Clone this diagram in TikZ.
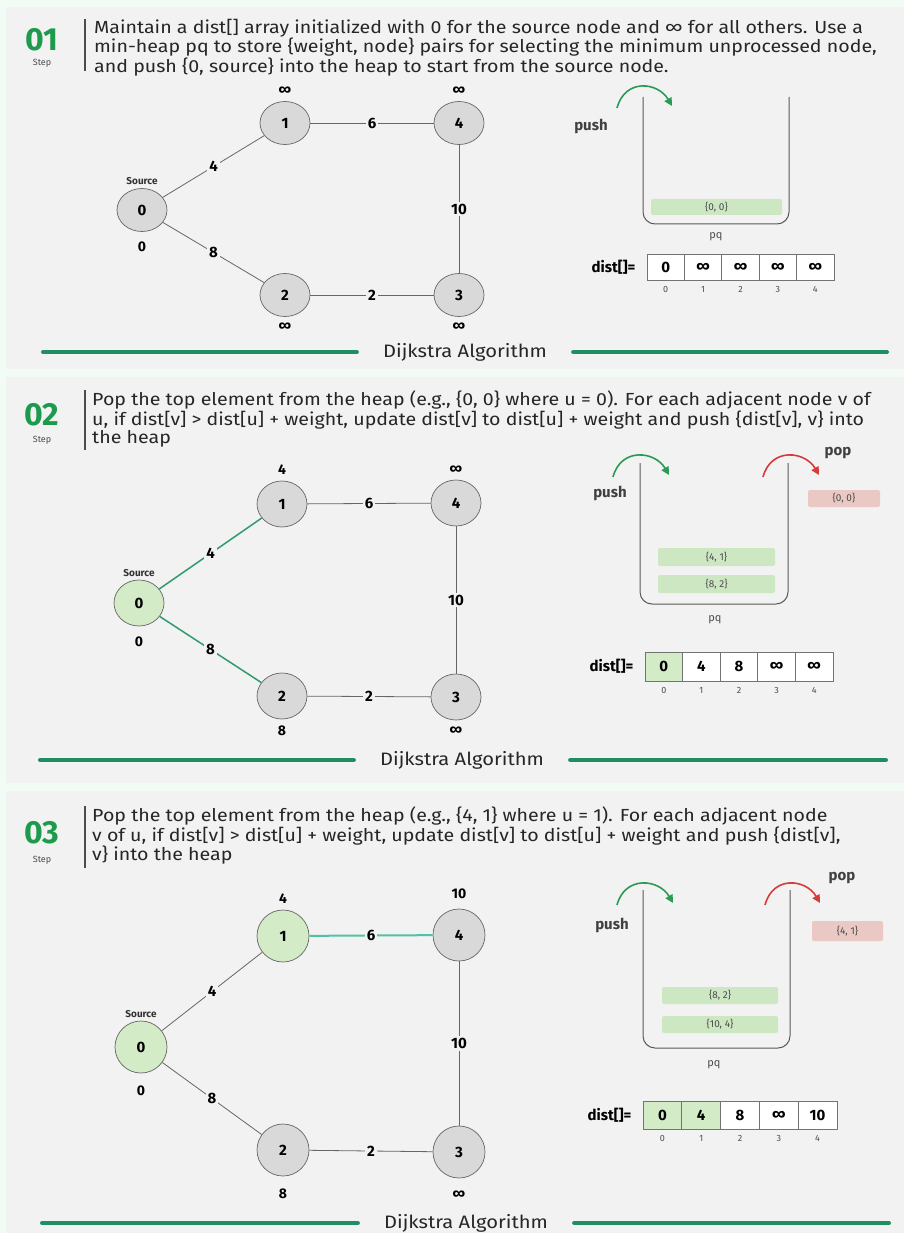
\documentclass[tikz,border=0pt]{standalone}
\usepackage{fontspec}
\setmainfont{Fira Sans}
\newfontfamily\narrowfont[FakeStretch=1.12]{Fira Sans}
\usetikzlibrary{positioning, shapes.geometric, arrows.meta}

\definecolor{pagebg}{HTML}{F3FBF5}
\definecolor{panelbg}{HTML}{F2F2F2}
\definecolor{stepgreen}{HTML}{1E9A4C}
\definecolor{footgreen}{HTML}{1F8F63}
\definecolor{nodegray}{HTML}{D9D9D9}
\definecolor{nodegreen}{HTML}{D3EBC6}
\definecolor{edgegreen}{HTML}{2E9C6A}
\definecolor{edgeteal}{HTML}{52C2A4}
\definecolor{itemgreen}{HTML}{CDE7C3}
\definecolor{itemred}{HTML}{EAC9C4}
\definecolor{pushgreen}{HTML}{2A9A55}
\definecolor{popred}{HTML}{D63A3A}

\begin{document}
\begin{tikzpicture}[x=1pt, y=-1pt,
vertex/.style={ellipse, draw=black!60, line width=0.7pt, fill=nodegray, minimum width=50pt, minimum height=43pt, inner sep=0pt, font=\bfseries\fontsize{15}{15}\selectfont},
vertexdone/.style={vertex, fill=nodegreen},
dl/.style={font=\bfseries\fontsize{14}{14}\selectfont, inner sep=0pt, label distance=6pt},
srclbl/.style={font=\bfseries\fontsize{10}{10}\selectfont, text=black!80, inner sep=0pt, label distance=3pt},
weight/.style={fill=panelbg, inner sep=2pt, font=\bfseries\fontsize{15}{15}\selectfont},
edge/.style={draw=black!60, line width=0.8pt},
edgedone/.style={draw=edgegreen, line width=1.5pt},
hdr/.style={anchor=north west, align=left, inner sep=0pt, text=black!85, font=\narrowfont\fontsize{17.5}{18}\selectfont},
stepnum/.style={font=\bfseries\fontsize{32}{32}\selectfont, text=stepgreen, inner sep=0pt},
steplbl/.style={font=\fontsize{9}{9}\selectfont, text=black!70, inner sep=0pt},
stepbar/.style={draw=black!70, line width=1.2pt},
bucket/.style={draw=black!65, line width=1pt, rounded corners=12pt},
item/.style={fill=itemgreen, rounded corners=2pt, minimum width=117pt, minimum height=17pt, inner sep=0pt, text=black!70, font=\fontsize{10}{10}\selectfont},
popped/.style={item, fill=itemred, minimum width=72pt, minimum height=18pt},
pusharrow/.style={-{Triangle[length=8pt,width=8pt]}, draw=pushgreen, line width=1.6pt},
poparrow/.style={pusharrow, draw=popred},
oplbl/.style={font=\bfseries\fontsize{15}{15}\selectfont, text=black!75, inner sep=0pt},
pqlbl/.style={font=\fontsize{11}{11}\selectfont, text=black!70, inner sep=0pt},
cell/.style={draw=black!55, line width=0.8pt, fill=white, minimum width=37.4pt, minimum height=26pt, inner sep=0pt, font=\bfseries\fontsize{15}{15}\selectfont},
cellgreen/.style={cell, fill=nodegreen},
idx/.style={font=\fontsize{9}{9}\selectfont, text=black!70, inner sep=0pt, label distance=6pt},
distlbl/.style={font=\bfseries\fontsize{15}{15}\selectfont, inner sep=0pt},
foottext/.style={font=\narrowfont\fontsize{18}{18}\selectfont, text=black!85, inner xsep=26pt},
footline/.style={draw=footgreen, line width=4pt, line cap=round}
]
\useasboundingbox (0,0) rectangle (904,1233);
\fill[pagebg] (0,0) rectangle (904,1233);

% ---------- step 01 ----------
\fill[panelbg] (6,7) rectangle (904,369);
\node[stepnum] (a-num) at (42,40) {01};
\node[steplbl] (a-step) at (42,63) {Step};
\draw[stepbar] (85,19) -- (85,71);
\node[hdr] (a-text) at (94,19) {Maintain a dist[] array initialized with 0 for the source node and ∞ for all others. Use a\\
min-heap pq to store \{weight, node\} pairs for selecting the minimum unprocessed node,\\
and push \{0, source\} into the heap to start from the source node.};

\node[vertex, label={[srclbl]above:Source}, label={[dl, label distance=10pt]below:0}] (a0) at (142,210) {0};
\node[vertex, label={[dl]above:∞}] (a1) at (285,123) {1};
\node[vertex, label={[dl]below:∞}] (a2) at (285,295) {2};
\node[vertex, label={[dl]below:∞}] (a3) at (459,295) {3};
\node[vertex, label={[dl]above:∞}] (a4) at (459,123) {4};
\draw[edge] (a0) -- node[weight]{4} (a1);
\draw[edge] (a0) -- node[weight]{8} (a2);
\draw[edge] (a1) -- node[weight]{6} (a4);
\draw[edge] (a2) -- node[weight]{2} (a3);
\draw[edge] (a4) -- node[weight]{10} (a3);

\draw[bucket] (643,97) -- (643,224) -- (789,224) -- (789,97);
\node[item, minimum width=131pt, minimum height=16pt] (a-pq1) at (716.5,207) {\{0, 0\}};
\node[pqlbl] (a-pq) at (716,237) {pq};
\coordinate (a-ps) at (617,108);
\coordinate (a-pe) at (672,106);
\draw[pusharrow] (a-ps) .. controls +(8,-30) and +(-14,-24) .. (a-pe);
\node[oplbl] (a-push) at (591,126) {push};
\foreach \v/\s [count=\i from 0] in {0/cell,∞/cell,∞/cell,∞/cell,∞/cell}
  \node[\s, label={[idx]below:\i}] (a-d\i) at (665.7+37.4*\i,267) {\v};
\node[distlbl, left=11pt of a-d0] (a-dist) {dist[]=};

\node[foottext] (a-foot) at (465,352) {Dijkstra Algorithm};
\coordinate (a-fl) at (43,352);
\coordinate (a-fr) at (887,352);
\draw[footline] (a-fl) -- (a-foot.west);
\draw[footline] (a-foot.east) -- (a-fr);

% ---------- step 02 ----------
\fill[panelbg] (6,377) rectangle (904,783);
\node[stepnum] (b-num) at (42,415) {02};
\node[steplbl] (b-step) at (42,440) {Step};
\draw[stepbar] (85,390) -- (85,450);
\node[hdr] (b-text) at (92,391) {Pop the top element from the heap (e.g., \{0, 0\} where u = 0). For each adjacent node v of\\
u, if dist[v] > dist[u] + weight, update dist[v] to dist[u] + weight and push \{dist[v], v\} into\\
the heap};

\node[vertexdone, minimum height=46pt, label={[srclbl]above:Source}, label={[dl, label distance=10pt]below:0}] (b0) at (139,603) {0};
\node[vertex, minimum height=46pt, label={[dl]above:4}] (b1) at (282,504) {1};
\node[vertex, minimum height=46pt, label={[dl]below:8}] (b2) at (282,696) {2};
\node[vertex, minimum height=46pt, label={[dl]below:∞}] (b3) at (456,697) {3};
\node[vertex, minimum height=46pt, label={[dl]above:∞}] (b4) at (456,503) {4};
\draw[edgedone] (b0) -- node[weight]{4} (b1);
\draw[edgedone] (b0) -- node[weight]{8} (b2);
\draw[edge] (b1) -- node[weight]{6} (b4);
\draw[edge] (b2) -- node[weight]{2} (b3);
\draw[edge] (b4) -- node[weight]{10} (b3);

\draw[bucket] (640,463) -- (640,604) -- (788,604) -- (788,463);
\node[item, minimum height=18pt] (b-pq1) at (716.5,557) {\{4, 1\}};
\node[item, minimum height=18pt] (b-pq2) at (716.5,584) {\{8, 2\}};
\node[pqlbl] (b-pq) at (715,620) {pq};
\coordinate (b-ps) at (613,477);
\coordinate (b-pe) at (669,475);
\draw[pusharrow] (b-ps) .. controls +(8,-30) and +(-14,-24) .. (b-pe);
\node[oplbl] (b-push) at (610,493) {push};
\coordinate (b-qs) at (763,477);
\coordinate (b-qe) at (819,475);
\draw[poparrow] (b-qs) .. controls +(8,-30) and +(-14,-24) .. (b-qe);
\node[oplbl] (b-pop) at (838,453) {pop};
\node[popped, minimum height=17pt] (b-out) at (844,498.5) {\{0, 0\}};
\foreach \v/\s [count=\i from 0] in {0/cellgreen,4/cell,8/cell,∞/cell,∞/cell}
  \node[\s, minimum width=37.6pt, minimum height=29pt, label={[idx]below:\i}] (b-d\i) at (663.8+37.6*\i,666.5) {\v};
\node[distlbl, left=11pt of b-d0] (b-dist) {dist[]=};

\node[foottext] (b-foot) at (462,760) {Dijkstra Algorithm};
\coordinate (b-fl) at (40,760);
\coordinate (b-fr) at (886,760);
\draw[footline] (b-fl) -- (b-foot.west);
\draw[footline] (b-foot.east) -- (b-fr);

% ---------- step 03 ----------
\fill[panelbg] (6,791) rectangle (904,1233);
\node[stepnum] (c-num) at (42,833) {03};
\node[steplbl] (c-step) at (42,860) {Step};
\draw[stepbar] (85,806) -- (85,868);
\node[hdr] (c-text) at (92,807) {Pop the top element from the heap (e.g., \{4, 1\} where u = 1). For each adjacent node\\
v of u, if dist[v] > dist[u] + weight, update dist[v] to dist[u] + weight and push \{dist[v],\\
v\} into the heap};

\node[vertexdone, minimum width=52pt, minimum height=52pt, label={[srclbl]above:Source}, label={[dl, label distance=12pt]below:0}] (c0) at (141,1047) {0};
\node[vertexdone, minimum width=52pt, minimum height=52pt, label={[dl]above:4}] (c1) at (283,936) {1};
\node[vertex, minimum width=52pt, minimum height=52pt, label={[dl, label distance=12pt]below:8}] (c2) at (283,1150) {2};
\node[vertex, minimum width=52pt, minimum height=52pt, label={[dl, label distance=12pt]below:∞}] (c3) at (459,1152) {3};
\node[vertex, minimum width=52pt, minimum height=52pt, label={[dl, label distance=10pt]above:10}] (c4) at (459,935) {4};
\draw[edge] (c0) -- node[weight]{4} (c1);
\draw[edge] (c0) -- node[weight]{8} (c2);
\draw[edgedone, draw=edgeteal, line width=2pt] (c1) -- node[weight]{6} (c4);
\draw[edge] (c2) -- node[weight]{2} (c3);
\draw[edge] (c4) -- node[weight]{10} (c3);

\draw[bucket] (643,890) -- (643,1048) -- (790,1048) -- (790,890);
\node[item, minimum width=116pt] (c-pq1) at (720,995.5) {\{8, 2\}};
\node[item, minimum width=116pt] (c-pq2) at (720,1024.5) {\{10, 4\}};
\node[pqlbl] (c-pq) at (714,1065) {pq};
\coordinate (c-ps) at (617,905);
\coordinate (c-pe) at (673,903);
\draw[pusharrow] (c-ps) .. controls +(8,-30) and +(-14,-24) .. (c-pe);
\node[oplbl] (c-push) at (612,925) {push};
\coordinate (c-qs) at (765,905);
\coordinate (c-qe) at (820,903);
\draw[poparrow] (c-qs) .. controls +(8,-30) and +(-14,-24) .. (c-qe);
\node[oplbl] (c-pop) at (842,878) {pop};
\node[popped, minimum width=71pt, minimum height=20pt] (c-out) at (847.5,931) {\{4, 1\}};
\foreach \v/\s [count=\i from 0] in {0/cellgreen,4/cellgreen,8/cell,∞/cell,10/cell}
  \node[\s, minimum width=38.8pt, minimum height=28pt, label={[idx]below:\i}] (c-d\i) at (662.4+38.8*\i,1115) {\v};
\node[distlbl, left=11pt of c-d0] (c-dist) {dist[]=};

\node[foottext] (c-foot) at (466,1223) {Dijkstra Algorithm};
\coordinate (c-fl) at (42,1223);
\coordinate (c-fr) at (889,1223);
\draw[footline] (c-fl) -- (c-foot.west);
\draw[footline] (c-foot.east) -- (c-fr);
\end{tikzpicture}
\end{document}
